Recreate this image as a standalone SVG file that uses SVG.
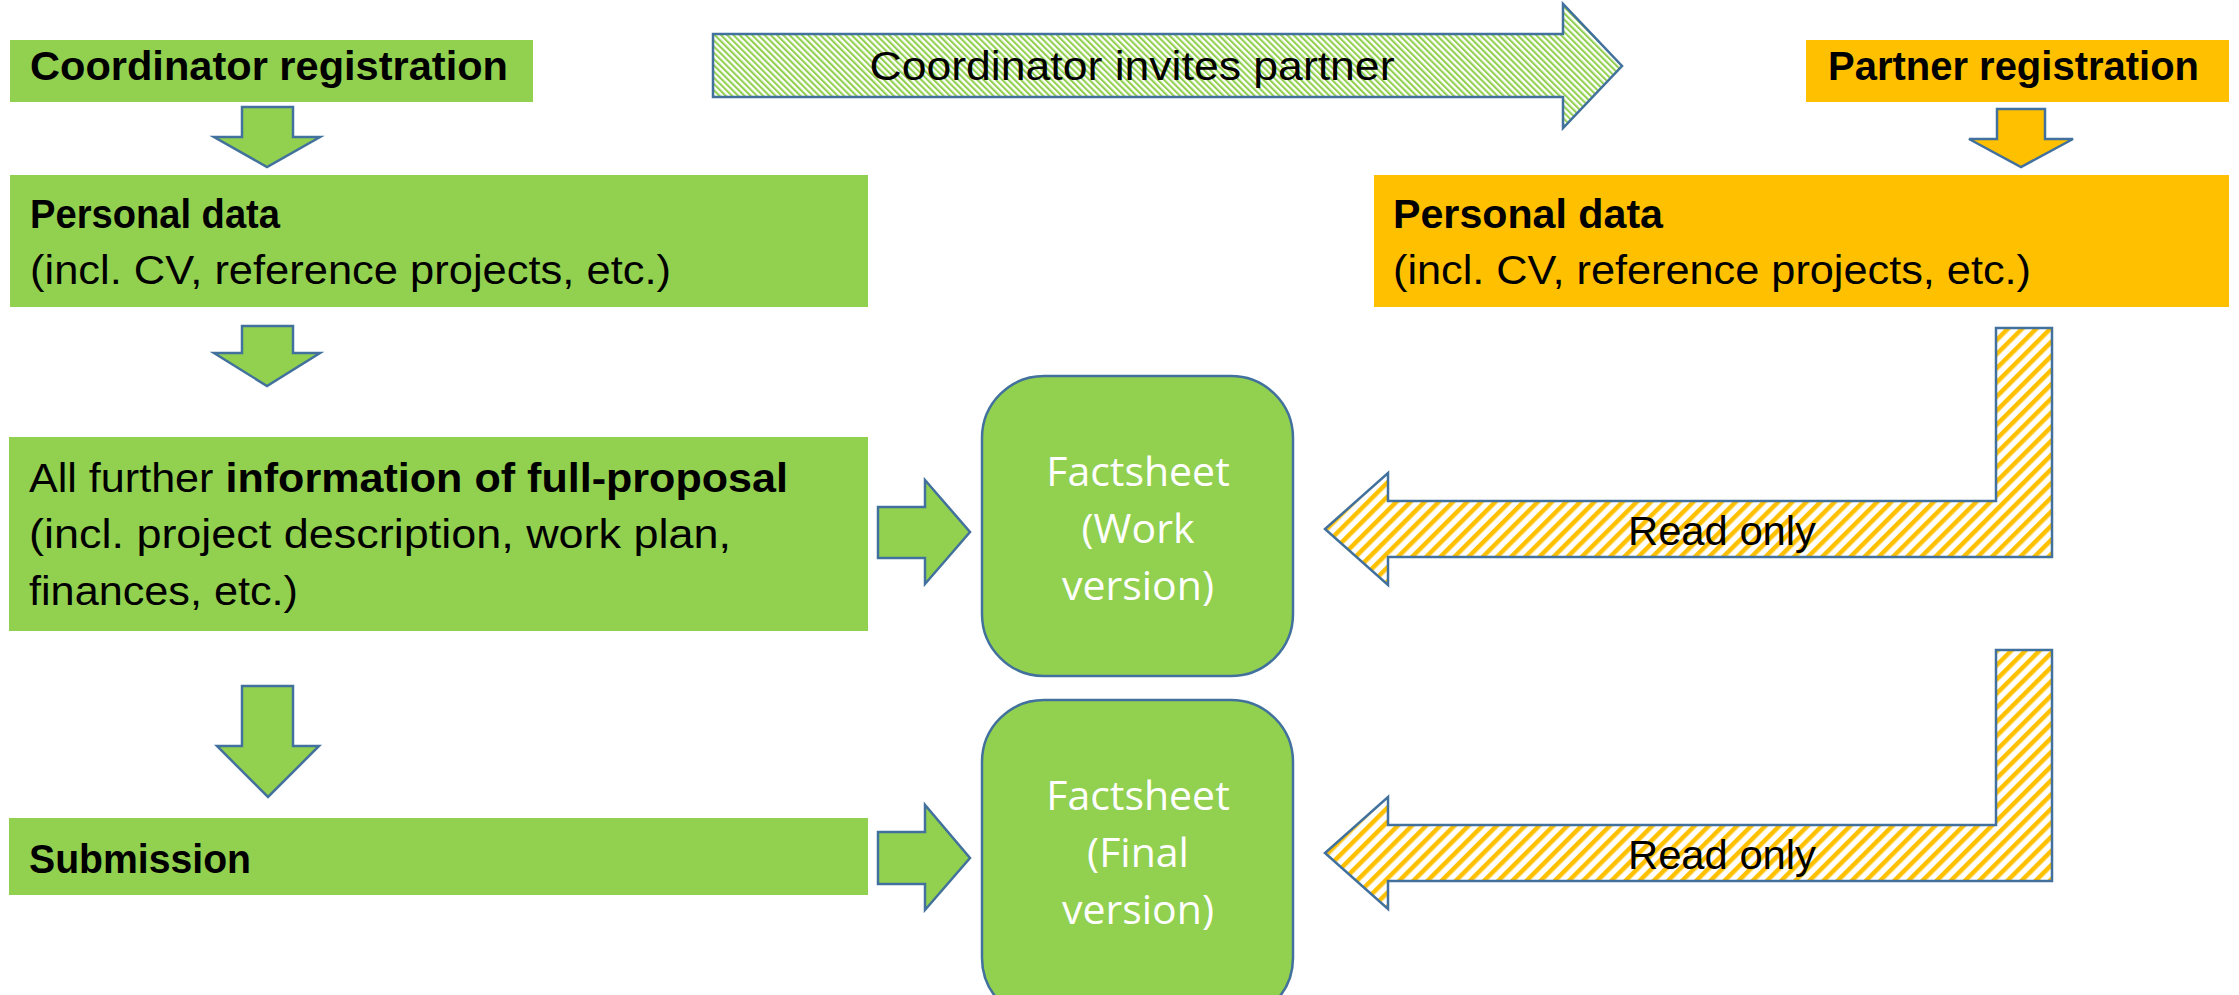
<svg xmlns="http://www.w3.org/2000/svg" width="2239" height="995" viewBox="0 0 2239 995">
<style>
.box-g{fill:#92D050}
.box-o{fill:#FFC000}
.arr{stroke:#41719C;stroke-width:2.5;stroke-linejoin:miter}
.t{font-family:"Liberation Sans",Arial,sans-serif;font-size:40px;fill:#000}
.b{font-weight:bold}
.fs{font-family:"Open Sans","Noto Sans",sans-serif;font-size:41px;fill:#fff;text-anchor:middle}
</style>
<defs>
<pattern id="hg" patternUnits="userSpaceOnUse" width="4.4" height="4.4" patternTransform="rotate(-45)">
<rect width="4.4" height="4.4" fill="#fff"/>
<rect width="2.1" height="4.4" fill="#92D050"/>
</pattern>
<pattern id="ho" patternUnits="userSpaceOnUse" width="10" height="10" patternTransform="rotate(45)">
<rect width="10" height="10" fill="#fff"/>
<rect width="4.5" height="10" fill="#FFC000"/>
</pattern>
</defs>
<rect width="2239" height="995" fill="#fff"/>

<g id="coord-reg">
<rect class="box-g" x="10" y="40" width="523" height="62"/>
<text class="t b" x="30" y="80" textLength="478" lengthAdjust="spacingAndGlyphs">Coordinator registration</text>
</g>
<g id="coord-personal">
<rect class="box-g" x="10" y="175" width="858" height="132"/>
<text class="t b" x="30" y="228" textLength="250" lengthAdjust="spacingAndGlyphs">Personal data</text>
<text class="t" x="30" y="284" textLength="641" lengthAdjust="spacingAndGlyphs">(incl. CV, reference projects, etc.)</text>
</g>
<g id="full-proposal">
<rect class="box-g" x="9" y="437" width="859" height="194"/>
<text class="t" x="29" y="492" textLength="759" lengthAdjust="spacingAndGlyphs">All further <tspan class="b">information of full-proposal</tspan></text>
<text class="t" x="29" y="548" textLength="702" lengthAdjust="spacingAndGlyphs">(incl. project description, work plan,</text>
<text class="t" x="29" y="605" textLength="269" lengthAdjust="spacingAndGlyphs">finances, etc.)</text>
</g>
<g id="submission">
<rect class="box-g" x="9" y="818" width="859" height="77"/>
<text class="t b" x="29" y="873" textLength="222" lengthAdjust="spacingAndGlyphs">Submission</text>
</g>
<g id="factsheet-work">
<rect x="982" y="376" width="311" height="300" rx="62" ry="62" fill="#92D050" stroke="#41719C" stroke-width="2.5"/>
<text class="fs" x="1138" y="486">Factsheet</text>
<text class="fs" x="1138" y="543">(Work</text>
<text class="fs" x="1138" y="600">version)</text>
</g>
<g id="factsheet-final">
<rect x="982" y="700" width="311" height="320" rx="62" ry="62" fill="#92D050" stroke="#41719C" stroke-width="2.5"/>
<text class="fs" x="1138" y="810">Factsheet</text>
<text class="fs" x="1138" y="867">(Final</text>
<text class="fs" x="1138" y="924">version)</text>
</g>
<g id="partner-reg">
<rect class="box-o" x="1806" y="40" width="423" height="62"/>
<text class="t b" x="1828" y="80" textLength="371" lengthAdjust="spacingAndGlyphs">Partner registration</text>
</g>
<g id="partner-personal">
<rect class="box-o" x="1374" y="175" width="855" height="132"/>
<text class="t b" x="1393" y="228" textLength="270" lengthAdjust="spacingAndGlyphs">Personal data</text>
<text class="t" x="1393" y="284" textLength="638" lengthAdjust="spacingAndGlyphs">(incl. CV, reference projects, etc.)</text>
</g>

<g id="connectors">
<path class="arr" fill="#92D050" d="M242,107 H293 V137 H320 L267,167 L214,137 H242 Z"/>
<path class="arr" fill="#92D050" d="M242,326 H293 V353 H320 L267,386 L214,353 H242 Z"/>
<path class="arr" fill="#92D050" d="M242,686 H293 V746 H319 L268,797 L217,746 H242 Z"/>
<path class="arr" fill="#92D050" d="M878,507 H925 V480 L970,532 L925,584 V558 H878 Z"/>
<path class="arr" fill="#92D050" d="M878,832 H925 V805 L970,858 L925,910 V884 H878 Z"/>
<path class="arr" fill="#FFC000" d="M1997,109 H2045 V139 H2073 L2021,167 L1969,139 H1997 Z"/>
<g id="invite">
<path class="arr" fill="url(#hg)" d="M713,34 H1563 V4 L1622,66 L1563,128 V97 H713 Z"/>
<text class="t" x="1132" y="80" text-anchor="middle" textLength="525" lengthAdjust="spacingAndGlyphs">Coordinator invites partner</text>
</g>
<g id="readonly-1">
<path class="arr" fill="url(#ho)" d="M2052,328 V557 H1388 V585 L1325,529 L1388,473 V501 H1996 V328 Z"/>
<text class="t" x="1722" y="545" text-anchor="middle" textLength="188" lengthAdjust="spacingAndGlyphs">Read only</text>
</g>
<g id="readonly-2">
<path class="arr" fill="url(#ho)" d="M2052,650 V881 H1388 V909 L1325,853 L1388,797 V825 H1996 V650 Z"/>
<text class="t" x="1722" y="869" text-anchor="middle" textLength="188" lengthAdjust="spacingAndGlyphs">Read only</text>
</g>
</g>
</svg>
